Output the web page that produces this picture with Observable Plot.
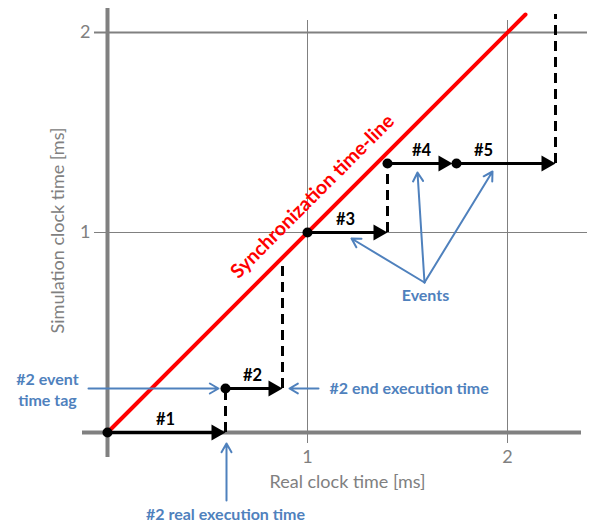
<!DOCTYPE html>
<html>
<head>
<meta charset="utf-8">
<script src="https://cdn.jsdelivr.net/npm/d3@7"></script>
<script src="https://cdn.jsdelivr.net/npm/@observablehq/plot@0.6"></script>
<style>
  html, body { margin: 0; padding: 0; background: #fff; }
  #chart svg { display: block; }
</style>
</head>
<body>
<div id="chart"></div>
<script>
// ---- data (ms) ----
const xTicks = [1, 2];
const yTicks = [1, 2];
const xTickLabels = ["1", "2"];
const yTickLabels = ["1", "2"];

const eventLabels = ["#1", "#2", "#3", "#4", "#5"];
const eventTag   = [0, 0.22, 1.0, 1.345, 1.345];   // simulation time tag
const eventStart = [0, 0.59, 1.0, 1.40, 1.745];    // real start time
const eventEnd   = [0.59, 0.875, 1.40, 1.725, 2.24]; // real end time
const eventLabelX = [0.29, 0.725, 1.19, 1.57, 1.88];

const waitX  = [0.59, 0.875, 1.40, 2.24];
const waitY1 = [0, 0.22, 1.0, 1.345];
const waitY2 = [0.22, 0.86, 1.345, 2.09];

const syncX = [0, 2.09];
const syncY = [0, 2.09];

const noteCenterText = ["#2 event\ntime tag", "#2 real execution time", "Events"];
const noteCenterX = [-0.30, 0.59, 1.59];
const noteCenterY = [0.22, -0.405, 0.69];
const noteStartText = ["#2 end execution time"];
const noteStartX = [1.11];
const noteStartY = [0.22];

const arrowX1 = [-0.095, 1.055, 0.595, 1.585, 1.585, 1.585];
const arrowY1 = [0.22, 0.22, -0.34, 0.75, 0.75, 0.75];
const arrowX2 = [0.555, 0.91, 0.595, 1.22, 1.55, 1.925];
const arrowY2 = [0.22, 0.22, -0.055, 0.97, 1.30, 1.305];

// ---- tables ----
const events = eventLabels.map((label, i) => ({
  label, tag: eventTag[i], start: eventStart[i], end: eventEnd[i], lx: eventLabelX[i]
}));
const waits = waitX.map((x, i) => ({x, y1: waitY1[i], y2: waitY2[i]}));
const sync = syncX.map((x, i) => ({x, y: syncY[i]}));
const notesC = noteCenterText.map((t, i) => ({t, x: noteCenterX[i], y: noteCenterY[i]}));
const notesS = noteStartText.map((t, i) => ({t, x: noteStartX[i], y: noteStartY[i]}));
const arrows = arrowX1.map((x1, i) => ({x1, y1: arrowY1[i], x2: arrowX2[i], y2: arrowY2[i]}));

const GRAY = "#808080";
const BLUE = "#4f81bd";
const FONT = "Lato, 'Open Sans', sans-serif";

const tri = {
  draw(ctx, l) {
    ctx.moveTo(-8, 0);
    ctx.lineTo(0, -l);
    ctx.lineTo(8, 0);
    ctx.closePath();
  }
};

const chart = Plot.plot({
  width: 594,
  height: 522,
  margin: 0,
  style: {fontFamily: FONT, background: "#fff"},
  x: {domain: [-0.535, 2.435], axis: null},
  y: {domain: [-0.45, 2.16], axis: null},
  marks: [
    // grid
    Plot.ruleX(xTicks, {y1: -0.055, y2: 2.06, stroke: GRAY, strokeWidth: 1}),
    Plot.ruleY(yTicks, {x1: -0.065, x2: 2.40, stroke: GRAY, strokeWidth: (d) => d === 2 ? 2 : 1}),
    // axes
    Plot.ruleX([0], {y1: -0.125, y2: 2.12, stroke: GRAY, strokeWidth: 4}),
    Plot.ruleY([0], {x1: -0.125, x2: 2.37, stroke: GRAY, strokeWidth: 4}),
    // tick labels
    Plot.text(xTicks, {x: (d) => d, y: -0.125, text: (d, i) => xTickLabels[i], fill: GRAY, fontSize: 18, lineAnchor: "middle"}),
    Plot.text(yTicks, {x: -0.085, y: (d) => d, text: (d, i) => yTickLabels[i], fill: GRAY, fontSize: 18, textAnchor: "end", lineAnchor: "middle"}),
    // axis titles
    Plot.text(["Real clock time [ms]"], {x: 1.2, y: -0.25, text: (d) => d, fill: GRAY, fontSize: 18, lineAnchor: "middle"}),
    Plot.text(["Simulation clock time [ms]"], {x: -0.245, y: 1.01, text: (d) => d, fill: GRAY, fontSize: 18, rotate: -90, lineAnchor: "middle"}),
    // synchronization line
    Plot.line(sync, {x: "x", y: "y", stroke: "#ff0000", strokeWidth: 4}),
    Plot.text(["Synchronization time-line"], {x: 1.025, y: 1.18, text: (d) => d, fill: "#ff0000", fontSize: 19.5, fontWeight: "bold", rotate: -45, lineAnchor: "middle"}),
    // waiting (dashed)
    Plot.ruleX(waits, {x: "x", y1: "y1", y2: "y2", stroke: "black", strokeWidth: 3, strokeDasharray: "10,6"}),
    // event execution arrows
    Plot.link(events, {x1: "start", y1: "tag", x2: (d) => d.end - 0.03, y2: "tag", stroke: "black", strokeWidth: 3, strokeLinecap: "butt"}),
    Plot.vector(events, {x: "end", y: "tag", length: 14, rotate: 90, anchor: "end", shape: tri, fill: "black", stroke: "none"}),
    Plot.dot(events, {x: "start", y: "tag", r: 5, fill: "black"}),
    Plot.text(events, {x: "lx", y: "tag", text: "label", dy: -13, fill: "black", fontSize: 16.5, fontWeight: "bold", lineAnchor: "middle"}),
    // annotations
    Plot.arrow(arrows, {x1: "x1", y1: "y1", x2: "x2", y2: "y2", stroke: BLUE, strokeWidth: 2, headLength: 7.5, headAngle: 60}),
    Plot.text(notesC, {x: "x", y: "y", text: "t", textAnchor: "middle", fill: BLUE, fontSize: 16, fontWeight: "bold", lineAnchor: "middle", lineHeight: 1.3}),
    Plot.text(notesS, {x: "x", y: "y", text: "t", textAnchor: "start", fill: BLUE, fontSize: 16, fontWeight: "bold", lineAnchor: "middle"})
  ]
});
document.getElementById("chart").appendChild(chart);
</script>
</body>
</html>
